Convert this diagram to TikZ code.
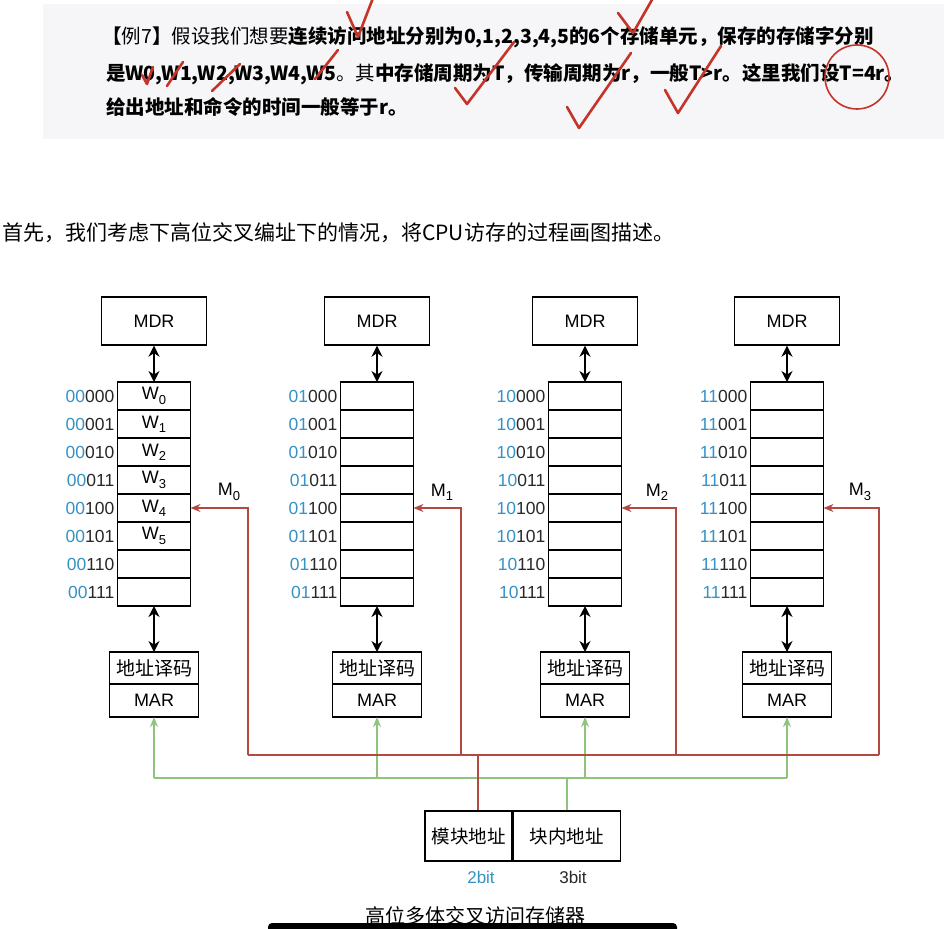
\documentclass[tikz,border=0pt]{standalone}
\usepackage{fontspec}
\setmainfont{Liberation Sans}
\newfontfamily\cjk{Noto Sans CJK SC}
\usepackage{tikz}
\usetikzlibrary{positioning, arrows.meta}
\usepackage{xcolor}

\definecolor{addrblue}{RGB}{53,146,196}
\definecolor{busred}{RGB}{178,74,64}
\definecolor{busgreen}{RGB}{143,196,124}
\definecolor{penred}{RGB}{196,52,40}
\definecolor{boxgray}{RGB}{246,246,248}
\definecolor{inkgray}{RGB}{40,40,40}

\newcommand{\pxfont}[1]{\fontsize{#1pt}{#1pt}\selectfont}
\newcommand{\lowidx}[1]{\raisebox{-0.45ex}{\pxfont{13}#1}}

\begin{document}
\begin{tikzpicture}[x=1pt, y=-1pt,
    reg/.style={draw, line width=1.4pt, minimum width=105pt, minimum height=48pt, inner sep=0pt, font=\pxfont{18}},
    cell/.style={draw, line width=1.4pt, minimum width=73pt, minimum height=28pt, inner sep=0pt, outer sep=0pt, font=\pxfont{18}},
    dec/.style={draw, line width=1.4pt, minimum width=89pt, minimum height=32pt, inner sep=0pt, outer sep=0pt},
    addr/.style={anchor=east, inner sep=0pt, font=\pxfont{17.5}, text=inkgray},
    dbl/.style={line width=1.9pt, {Stealth[length=11pt,width=11pt]}-{Stealth[length=11pt,width=11pt]}},
    redline/.style={draw=busred, line width=1.3pt},
    greenline/.style={draw=busgreen, line width=1.6pt},
    check/.style={draw=penred, line width=2.6pt, line cap=round, line join=round}]

    % Page
    \fill[white] (0,0) rectangle (944,928);
    \useasboundingbox (0,0) rectangle (944,928);

    % Example box
    \fill[boxgray] (43,4) rectangle (944,139);
    \node[anchor=base west, inner sep=0pt, font=\cjk\pxfont{19.5}] (line1) at (102,44)
        {\textbf{【}例7\textbf{】}假设我们想要\textbf{连续访问地址分别为0,1,2,3,4,5的6个存储单元，保存的存储字分别}};
    \node[anchor=base west, inner sep=0pt, font=\cjk\pxfont{19.5}] (line2) at (106,81)
        {\textbf{是W0,W1,W2,W3,W4,W5}。其\textbf{中存储周期为T，传输周期为r，一般T>r。这里我们设T=4r。}};
    \node[anchor=base west, inner sep=0pt, font=\cjk\pxfont{19.5}] (line3) at (106,115)
        {\textbf{给出地址和命令的时间一般等于r。}};

    % Pen marks
    \draw[check] (347,12) -- (358,37) -- (373,-2);
    \draw[check] (618,13) -- (633,33) -- (653,-2);
    \draw[check] (142,75) -- (147,84) -- (153,67);
    \draw[check] (167,86) -- (183,62);
    \draw[check] (212,91) -- (240,64);
    \draw[check] (315,79) -- (338,50);
    \draw[check] (455,88) -- (467,104) -- (514,42);
    \draw[check] (567,107) -- (579,128) -- (631,53);
    \draw[check] (665,90) -- (678,113) -- (721,46);
    \draw[penred, line width=1.6pt] (857,77) circle (32);

    % Intro sentence
    \node[anchor=base west, inner sep=0pt, font=\cjk\pxfont{21}] (intro) at (2,240)
        {首先，我们考虑下高位交叉编址下的情况，将CPU访存的过程画图描述。};

    % Memory modules
    \foreach \cx/\rx/\hi [count=\k from 0] in {154/248/00, 377/461/01, 585/676/10, 787/879/11} {
        \node[reg] (mdr\k) at (\cx,321) {MDR};
        \foreach \r/\lo in {0/000, 1/001, 2/010, 3/011, 4/100, 5/101, 6/110, 7/111} {
            \node[cell] (c\k\r) at (\cx,{396+28*\r}) {};
            \node[addr] (a\k\r) at ([xshift=-3pt]c\k\r.west) {\textcolor{addrblue}{\hi}\lo};
        }
        \node[dec, font=\cjk\pxfont{19}] (dec\k) at (\cx,668) {地址译码};
        \node[dec, minimum height=33pt, font=\pxfont{18}, below=0pt of dec\k] (mar\k) {MAR};
        \draw[dbl] (mdr\k) -- (c\k0);
        \draw[dbl] (c\k7) -- (dec\k);
        \coordinate (rb\k) at (\rx,755);
        \coordinate (gb\k) at (\cx,778);
        \node[font=\pxfont{18}] (lab\k) at ({\rx-19},492) {M\lowidx{\k}};
        \draw[redline, -{Stealth[length=10pt,width=8pt]}] (rb\k) |- (c\k4.east);
    }

    % Stored words
    \foreach \r in {0,...,5}
        \node[font=\pxfont{18}] (w\r) at (c0\r) {W\lowidx{\r}};

    % Address register
    \node[draw, line width=1.4pt, minimum width=87pt, minimum height=50pt, inner sep=0pt,
          font=\cjk\pxfont{18.5}] (modaddr) at (468.5,836) {模块地址};
    \node[draw, line width=1.4pt, minimum width=107pt, minimum height=50pt, inner sep=0pt,
          font=\cjk\pxfont{18.5}, anchor=west] (inaddr) at (modaddr.east) {块内地址};
    \node[font=\pxfont{17}, text=addrblue] (bits2) at (481,877) {2bit};
    \node[font=\pxfont{17}, text=inkgray] (bits3) at (573,877) {3bit};

    % Green bus
    \draw[greenline] (gb0) -- (gb3);
    \foreach \k in {0,...,3}
        \draw[greenline, -{Stealth[length=10pt,width=8pt]}] (gb\k) -- (mar\k);
    \draw[greenline] (inaddr.north) -- (inaddr.north |- gb0);

    % Red bus
    \draw[redline] (rb0) -- (rb3);
    \coordinate (rjoin) at (478,755);
    \draw[redline, line width=2.4pt] (rjoin) -- (rjoin |- modaddr.north);

    % Caption
    \node[anchor=base, inner sep=0pt, font=\cjk\pxfont{20}] (caption) at (475,923) {高位多体交叉访问存储器};
    \fill[black, rounded corners=4pt] (268,923) rectangle (677,940);

\end{tikzpicture}
\end{document}
